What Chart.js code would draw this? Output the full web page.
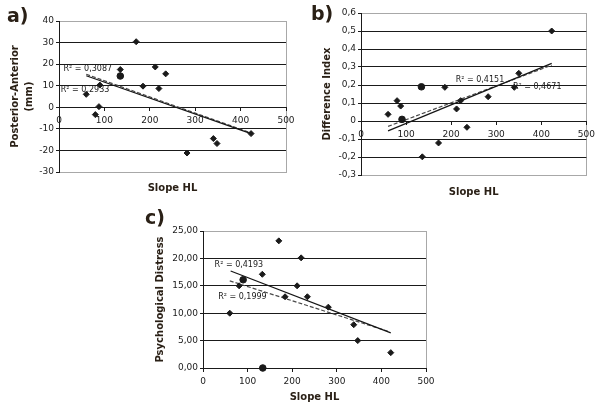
<!DOCTYPE html>
<html>
<head>
<meta charset="utf-8">
<script src="https://cdn.jsdelivr.net/npm/chart.js@4.4.0/dist/chart.umd.min.js"></script>
<style>
html, body { margin: 0; padding: 0; background: #fff; }
body { width: 600px; height: 403px; position: relative; overflow: hidden; }
canvas { position: absolute; }
</style>
</head>
<body>
<canvas id="chartA" width="300" height="200" style="left:0px;top:0px"></canvas>
<canvas id="chartB" width="300" height="200" style="left:300px;top:0px"></canvas>
<canvas id="chartC" width="300" height="203" style="left:140px;top:200px"></canvas>
<script>
// panel a) Posterior-Anterior vs Slope HL
const slopeA = [60, 80, 88, 90, 135, 170, 185, 212, 220, 235, 282, 340, 348, 423]
const postAnt = [6, -3.4, 0.3, 10.3, 17.5, 30.4, 9.8, 18.7, 8.7, 15.5, -21.2, -14.5, -16.8, -12.2]
const slopeAdot = [135]
const postAntDot = [14.5]
const trendXA = [60, 423]
const trendA1 = [14.6, -12.2]
const trendA2 = [15.3, -11.9]

// panel b) Difference Index vs Slope HL
const slopeB = [60, 80, 88, 136, 172, 186, 212, 221, 235, 282, 340, 350, 423]
const diffIndex = [0.037, 0.113, 0.083, -0.199, -0.122, 0.187, 0.067, 0.113, -0.035, 0.135, 0.187, 0.265, 0.5]
const slopeBdot = [91, 134]
const diffIndexDot = [0.009, 0.19]
const trendXB = [60, 423]
const trendB1 = [-0.055, 0.32]
const trendB2 = [-0.03, 0.31]

// panel c) Psychological Distress vs Slope HL
const slopeC = [60, 81, 133, 170, 184, 211, 220, 234, 281, 338, 347, 421]
const distress = [10, 15, 17.1, 23.2, 13, 15, 20.1, 13, 11.1, 7.9, 5, 2.8]
const slopeCdot = [90, 134]
const distressDot = [16.1, 0]
const trendXC1 = [62, 421]
const trendC1 = [17.7, 6.4]
const trendXC2 = [60, 415]
const trendC2 = [15.9, 6.7]

const xTicks = [0, 100, 200, 300, 400, 500]

const FONT = "'DejaVu Sans', Verdana, sans-serif"
const INK = "#1a1a1a"
const TITLE_INK = "#2a2016"
const BORDER = "#a8a8a8"

const pts = (xs, ys) => xs.map((x, i) => ({x: x, y: ys[i]}))

const textPlugin = {
    id: "panelText",
    beforeDraw(chart, args, opts) {
        const a = chart.chartArea
        const ctx = chart.ctx
        ctx.save()
        ctx.strokeStyle = BORDER
        ctx.lineWidth = 1
        ctx.strokeRect(Math.round(a.left) + 0.5, Math.round(a.top) + 0.5,
            Math.round(a.right - a.left), Math.round(a.bottom - a.top))
        ctx.restore()
    },
    afterDraw(chart, args, opts) {
        const a = chart.chartArea
        const ctx = chart.ctx
        const xs = chart.scales.x, ys = chart.scales.y
        ctx.save()
        ctx.fillStyle = TITLE_INK
        ctx.font = "bold 19px " + FONT
        ctx.textAlign = "left"
        ctx.textBaseline = "alphabetic"
        ctx.fillText(opts.letter, opts.letterX, opts.letterY)

        ctx.font = "bold 10px " + FONT
        ctx.textAlign = "center"
        ctx.textBaseline = "middle"
        ctx.fillText("Slope HL", (a.left + a.right) / 2, opts.xTitleY)

        ctx.fillStyle = INK
        ctx.font = "8px " + FONT
        ctx.textAlign = "left"
        opts.labels.forEach(l => {
            ctx.fillText(l.text, xs.getPixelForValue(l.x), ys.getPixelForValue(l.y))
        })
        ctx.restore()
    }
}

function makePanel(id, p) {
    const near = (v, w) => Math.abs(v - w) < 1e-6
    return new Chart(id, {
        type: "scatter",
        data: {
            datasets: [
                {data: p.diamonds, pointStyle: "rectRot", pointRadius: 3, borderWidth: 1,
                 backgroundColor: INK, borderColor: INK, clip: false},
                {data: p.dots, pointStyle: "circle", pointRadius: 3.3, borderWidth: 1,
                 backgroundColor: INK, borderColor: INK, clip: false},
                {data: p.solid, showLine: true, pointRadius: 0, borderColor: "#151515", borderWidth: 1.2},
                {data: p.dashed, showLine: true, pointRadius: 0, borderColor: "#4a4a4a", borderWidth: 1.2,
                 borderDash: [4, 2]}
            ]
        },
        options: {
            responsive: false,
            animation: false,
            devicePixelRatio: 1,
            layout: {padding: {left: 0, top: p.pad.top, right: p.pad.right, bottom: p.pad.bottom}},
            plugins: {
                legend: {display: false},
                tooltip: {enabled: false},
                panelText: p.text
            },
            scales: {
                x: {
                    type: "linear",
                    // the x axis crosses the value axis at zero, as in the Excel original
                    position: {y: 0},
                    min: 0, max: 500,
                    afterBuildTicks: s => { s.ticks = xTicks.map(v => ({value: v})) },
                    afterFit: s => { s.height = 0 },
                    grid: {drawOnChartArea: false, drawTicks: true, tickLength: 3, color: INK},
                    border: {color: INK, width: 1},
                    ticks: {autoSkip: false, maxRotation: 0, padding: 5, color: INK,
                            font: {family: FONT, size: 9}}
                },
                y: {
                    type: "linear",
                    position: "left",
                    min: p.yMin, max: p.yMax,
                    afterFit: s => { s.width = p.pad.left },
                    grid: {
                        color: c => (near(c.tick.value, p.yMax) || (near(c.tick.value, p.yMin) && p.yMin < 0)) ? BORDER : INK,
                        tickColor: INK, tickLength: 3, lineWidth: 1
                    },
                    border: {color: INK, width: 1},
                    ticks: {stepSize: p.yStep, padding: 2, color: INK,
                            font: {family: FONT, size: 9}, callback: p.fmt},
                    title: {display: true, text: p.yTitle, color: TITLE_INK,
                            font: {family: FONT, size: 10, weight: "bold", lineHeight: 1.4},
                            padding: {top: p.yTitlePad, bottom: 0}}
                }
            }
        },
        plugins: [textPlugin]
    })
}

const comma = (v, d) => {
    if (Math.abs(v) < 1e-9) return d === 2 ? "0,00" : "0"
    return v.toFixed(d).replace(".", ",")
}

makePanel("chartA", {
    pad: {left: 59, top: 21, right: 14, bottom: 28},
    yMin: -30, yMax: 40, yStep: 10,
    fmt: v => String(v),
    yTitle: ["Posterior-Anterior", "(mm)"], yTitlePad: 8,
    diamonds: pts(slopeA, postAnt), dots: pts(slopeAdot, postAntDot),
    solid: pts(trendXA, trendA1), dashed: pts(trendXA, trendA2),
    text: {letter: "a)", letterX: 7, letterY: 22, xTitleY: 188,
           labels: [{text: "R² = 0,3087", x: 10, y: 17.7}, {text: "R² = 0,2933", x: 4, y: 8.2}]}
})

makePanel("chartB", {
    pad: {left: 61, top: 13, right: 8, bottom: 25},
    yMin: -0.3, yMax: 0.6, yStep: 0.1,
    fmt: v => comma(v, 1),
    yTitle: "Difference Index", yTitlePad: 20,
    diamonds: pts(slopeB, diffIndex), dots: pts(slopeBdot, diffIndexDot),
    solid: pts(trendXB, trendB1), dashed: pts(trendXB, trendB2),
    text: {letter: "b)", letterX: 11, letterY: 20, xTitleY: 192,
           labels: [{text: "R² = 0,4151", x: 210, y: 0.228}, {text: "R² = 0,4671", x: 337, y: 0.1875}]}
})

makePanel("chartC", {
    pad: {left: 63, top: 31, right: 14, bottom: 35},
    yMin: 0, yMax: 25, yStep: 5,
    fmt: v => comma(v, 2),
    yTitle: "Psychological Distress", yTitlePad: 13,
    diamonds: pts(slopeC, distress), dots: pts(slopeCdot, distressDot),
    solid: pts(trendXC1, trendC1), dashed: pts(trendXC2, trendC2),
    text: {letter: "c)", letterX: 5, letterY: 24, xTitleY: 197,
           labels: [{text: "R² = 0,4193", x: 26, y: 18.9}, {text: "R² = 0,1999", x: 34, y: 13.0}]}
})
</script>
</body>
</html>
